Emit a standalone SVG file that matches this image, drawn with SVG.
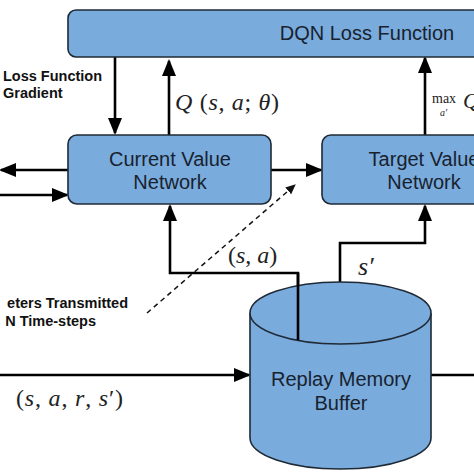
<svg xmlns="http://www.w3.org/2000/svg" width="474" height="474" viewBox="0 0 474 474">
<style>
.box{fill:#7aabdd;stroke:#1f2a36;stroke-width:1.6}
.lbl{font-family:"Liberation Sans",Arial,sans-serif;font-size:20px;fill:#18222e;text-anchor:middle}
.side{font-family:"Liberation Sans",Arial,sans-serif;font-size:14.5px;font-weight:bold;fill:#111}
.math{font-family:"Liberation Serif","DejaVu Serif",serif;fill:#222}
.it{font-style:italic}
.ln{fill:none;stroke:#000;stroke-width:2.6}
.dash{fill:none;stroke:#111;stroke-width:1.5;stroke-dasharray:5 4}
</style>
<defs>
<marker id="ah" markerUnits="userSpaceOnUse" markerWidth="17" markerHeight="14" refX="15" refY="7" orient="auto">
<path d="M0,0 L17,7 L0,14 z" fill="#000"/>
</marker>
<marker id="ahs" markerUnits="userSpaceOnUse" markerWidth="10" markerHeight="9" refX="9" refY="4.5" orient="auto">
<path d="M0,0 L10,4.5 L0,9 z" fill="#111"/>
</marker>
</defs>

<g id="connectors">
<line class="ln" x1="115" y1="57" x2="115" y2="133" marker-end="url(#ah)"/>
<line class="ln" x1="169" y1="135" x2="169" y2="61" marker-end="url(#ah)"/>
<line class="ln" x1="425" y1="135" x2="425" y2="58" marker-end="url(#ah)"/>
<line class="ln" x1="68" y1="170" x2="1" y2="170" marker-end="url(#ah)"/>
<line class="ln" x1="0" y1="195" x2="67" y2="195" marker-end="url(#ah)"/>
<line class="ln" x1="271" y1="170" x2="321" y2="170" marker-end="url(#ah)"/>
<polyline class="ln" points="298,340 298,273 170,273 170,206" marker-end="url(#ah)"/>
<polyline class="ln" points="340,282 340,243 425,243 425,206" marker-end="url(#ah)"/>
<line class="ln" x1="0" y1="375" x2="249" y2="375" marker-end="url(#ah)"/>
<line class="ln" x1="431" y1="375" x2="474" y2="375"/>
<line class="dash" x1="147" y1="313" x2="295" y2="185" marker-end="url(#ahs)"/>
</g>

<g id="dqn-loss">
<rect class="box" x="68" y="10" width="430" height="47" rx="8"/>
<text class="lbl" x="367" y="40">DQN Loss Function</text>
</g>

<g id="current-value">
<rect class="box" x="68" y="135" width="203" height="69" rx="9"/>
<text class="lbl" x="170" y="166">Current Value</text>
<text class="lbl" x="170" y="189">Network</text>
</g>

<g id="target-value">
<rect class="box" x="322" y="135" width="204" height="69" rx="9"/>
<text class="lbl" x="424" y="166">Target Value</text>
<text class="lbl" x="424" y="189">Network</text>
</g>

<g id="replay-memory">
<path class="box" d="M250,314 L250,438 A90.5,31 0 0 0 431,438 L431,314 Z"/>
<ellipse class="box" cx="340.5" cy="313" rx="90.5" ry="31"/>
<line class="ln" x1="298" y1="273" x2="298" y2="340"/>
<text class="lbl" x="341" y="386">Replay Memory</text>
<text class="lbl" x="341" y="410">Buffer</text>
</g>

<g id="labels">
<text class="side" x="3" y="81">Loss Function</text>
<text class="side" x="3" y="98">Gradient</text>
<text class="side" x="128" y="308" text-anchor="end">eters Transmitted</text>
<text class="side" x="96" y="326" text-anchor="end">N Time-steps</text>
<text class="math" x="175" y="110" font-size="24" textLength="104"><tspan class="it">Q</tspan> (<tspan class="it">s</tspan>, <tspan class="it">a</tspan>; <tspan class="it">θ</tspan>)</text>
<text class="math" x="228" y="263" font-size="24"><tspan>(</tspan><tspan class="it">s</tspan>, <tspan class="it">a</tspan>)</text>
<text class="math it" x="358" y="275" font-size="26">s′</text>
<text class="math" x="16" y="406" font-size="24" textLength="107">(<tspan class="it">s</tspan>, <tspan class="it">a</tspan>, <tspan class="it">r</tspan>, <tspan class="it">s</tspan>′)</text>
<text class="math" x="432" y="103" font-size="14">max</text>
<text class="math it" x="440" y="116" font-size="10">a′</text>
<text class="math it" x="463" y="108" font-size="22">Q</text>
</g>
</svg>
